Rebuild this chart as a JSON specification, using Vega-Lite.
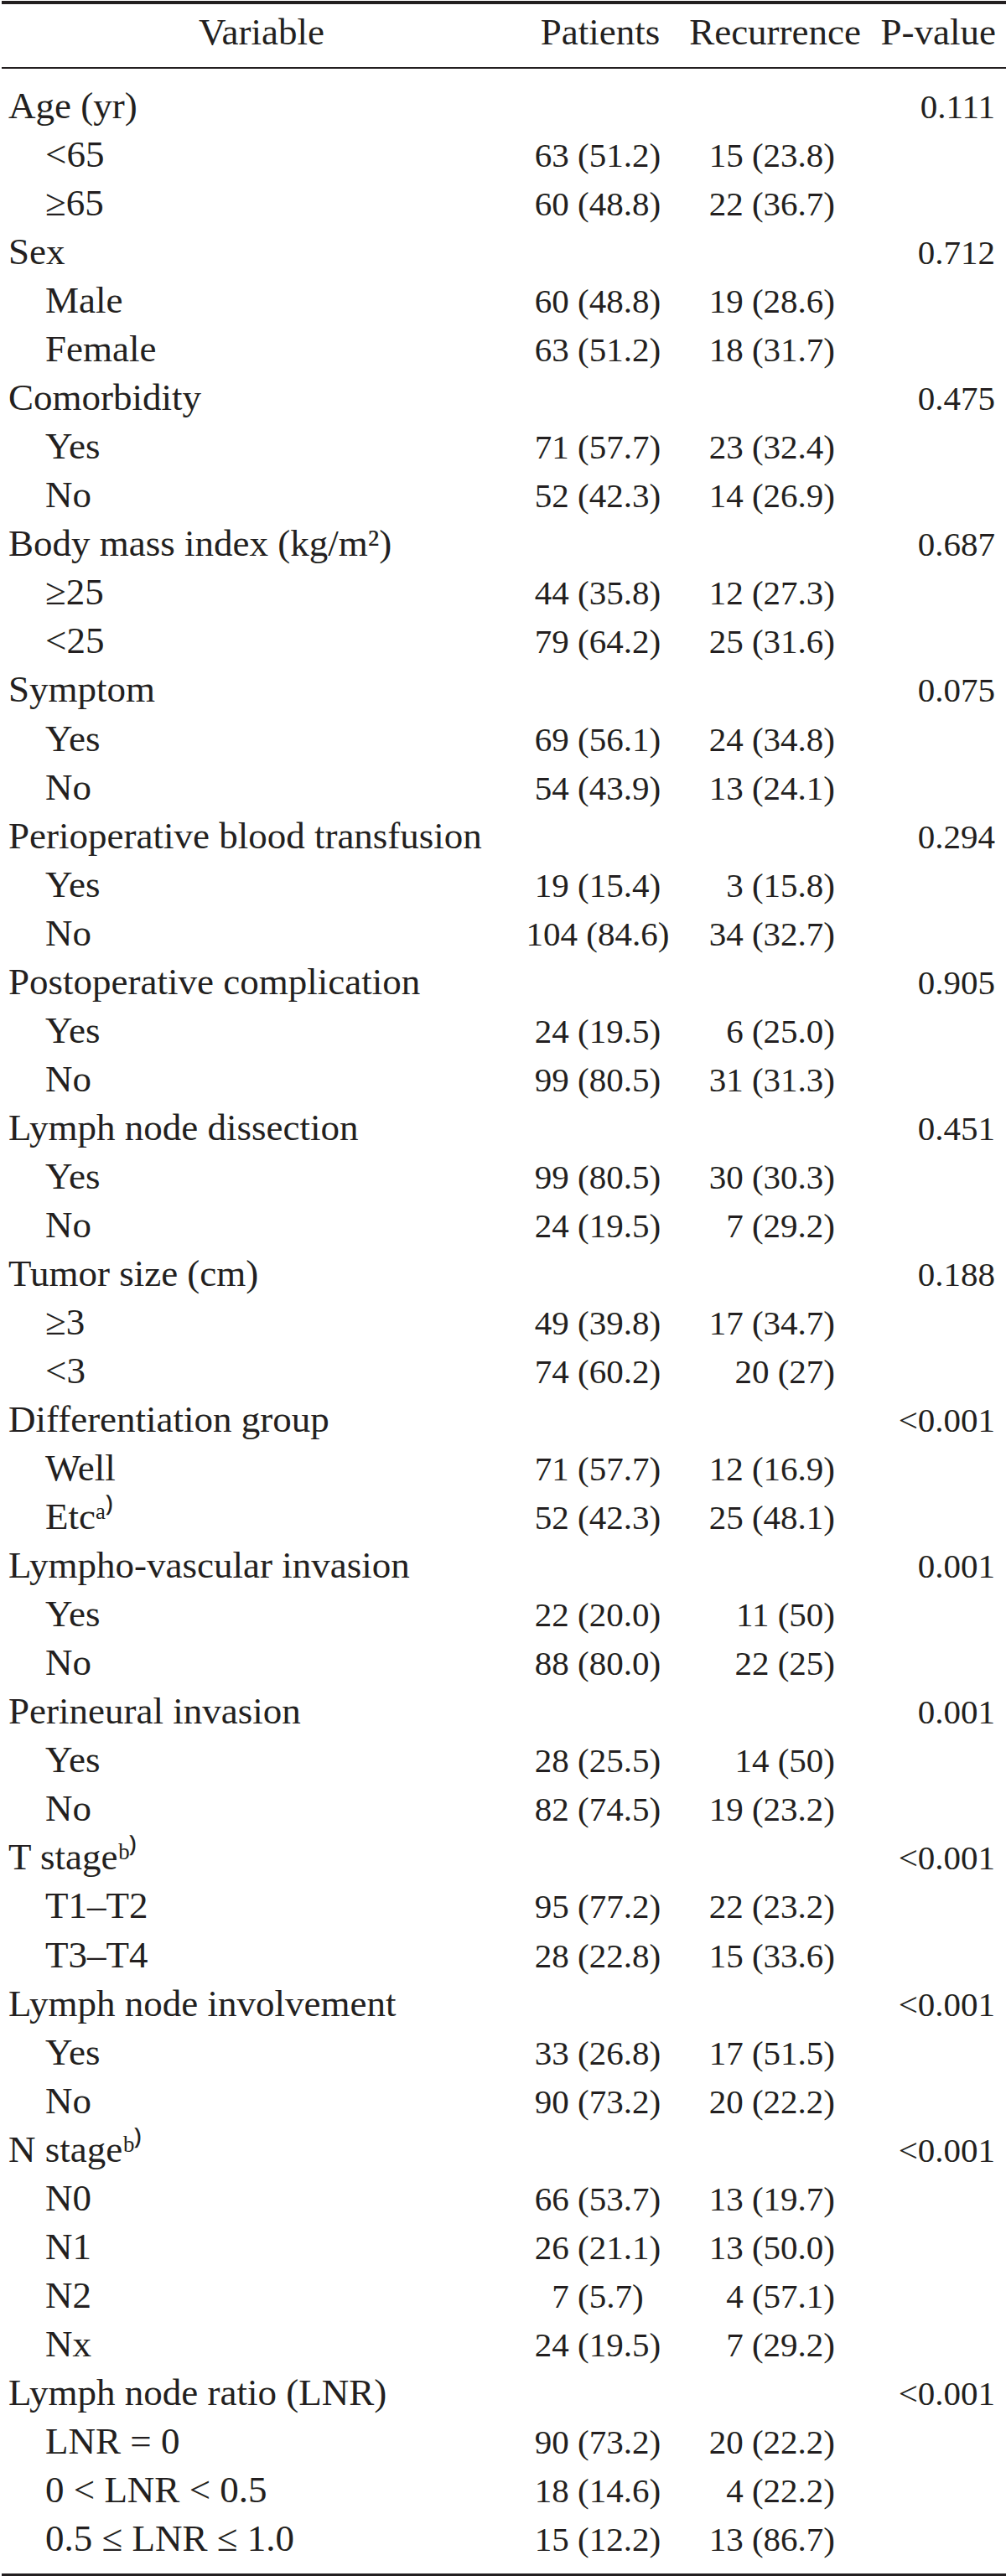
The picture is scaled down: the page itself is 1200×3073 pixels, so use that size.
{
  "$schema": "https://vega.github.io/schema/vega-lite/v6.json",
  "background": "white",
  "padding": 0,
  "spacing": 0,
  "bounds": "flush",
  "config": {
    "view": {"stroke": null},
    "concat": {"spacing": 0},
    "text": {"font": "Liberation Serif", "fontSize": 45, "color": "#231f20", "baseline": "alphabetic"},
    "rule": {"color": "#231f20"}
  },
  "datasets": {
    "rows": [
      {"row": 1, "variable": "Age (yr)", "level": 0, "patients": "", "recurrence": "", "pvalue": "0.111"},
      {"row": 2, "variable": "<65", "level": 1, "patients": "63 (51.2)", "recurrence": "15 (23.8)", "pvalue": ""},
      {"row": 3, "variable": "≥65", "level": 1, "patients": "60 (48.8)", "recurrence": "22 (36.7)", "pvalue": ""},
      {"row": 4, "variable": "Sex", "level": 0, "patients": "", "recurrence": "", "pvalue": "0.712"},
      {"row": 5, "variable": "Male", "level": 1, "patients": "60 (48.8)", "recurrence": "19 (28.6)", "pvalue": ""},
      {"row": 6, "variable": "Female", "level": 1, "patients": "63 (51.2)", "recurrence": "18 (31.7)", "pvalue": ""},
      {"row": 7, "variable": "Comorbidity", "level": 0, "patients": "", "recurrence": "", "pvalue": "0.475"},
      {"row": 8, "variable": "Yes", "level": 1, "patients": "71 (57.7)", "recurrence": "23 (32.4)", "pvalue": ""},
      {"row": 9, "variable": "No", "level": 1, "patients": "52 (42.3)", "recurrence": "14 (26.9)", "pvalue": ""},
      {"row": 10, "variable": "Body mass index (kg/m²)", "level": 0, "patients": "", "recurrence": "", "pvalue": "0.687"},
      {"row": 11, "variable": "≥25", "level": 1, "patients": "44 (35.8)", "recurrence": "12 (27.3)", "pvalue": ""},
      {"row": 12, "variable": "<25", "level": 1, "patients": "79 (64.2)", "recurrence": "25 (31.6)", "pvalue": ""},
      {"row": 13, "variable": "Symptom", "level": 0, "patients": "", "recurrence": "", "pvalue": "0.075"},
      {"row": 14, "variable": "Yes", "level": 1, "patients": "69 (56.1)", "recurrence": "24 (34.8)", "pvalue": ""},
      {"row": 15, "variable": "No", "level": 1, "patients": "54 (43.9)", "recurrence": "13 (24.1)", "pvalue": ""},
      {"row": 16, "variable": "Perioperative blood transfusion", "level": 0, "patients": "", "recurrence": "", "pvalue": "0.294"},
      {"row": 17, "variable": "Yes", "level": 1, "patients": "19 (15.4)", "recurrence": "3 (15.8)", "pvalue": ""},
      {"row": 18, "variable": "No", "level": 1, "patients": "104 (84.6)", "recurrence": "34 (32.7)", "pvalue": ""},
      {"row": 19, "variable": "Postoperative complication", "level": 0, "patients": "", "recurrence": "", "pvalue": "0.905"},
      {"row": 20, "variable": "Yes", "level": 1, "patients": "24 (19.5)", "recurrence": "6 (25.0)", "pvalue": ""},
      {"row": 21, "variable": "No", "level": 1, "patients": "99 (80.5)", "recurrence": "31 (31.3)", "pvalue": ""},
      {"row": 22, "variable": "Lymph node dissection", "level": 0, "patients": "", "recurrence": "", "pvalue": "0.451"},
      {"row": 23, "variable": "Yes", "level": 1, "patients": "99 (80.5)", "recurrence": "30 (30.3)", "pvalue": ""},
      {"row": 24, "variable": "No", "level": 1, "patients": "24 (19.5)", "recurrence": "7 (29.2)", "pvalue": ""},
      {"row": 25, "variable": "Tumor size (cm)", "level": 0, "patients": "", "recurrence": "", "pvalue": "0.188"},
      {"row": 26, "variable": "≥3", "level": 1, "patients": "49 (39.8)", "recurrence": "17 (34.7)", "pvalue": ""},
      {"row": 27, "variable": "<3", "level": 1, "patients": "74 (60.2)", "recurrence": "20 (27)", "pvalue": ""},
      {"row": 28, "variable": "Differentiation group", "level": 0, "patients": "", "recurrence": "", "pvalue": "<0.001"},
      {"row": 29, "variable": "Well", "level": 1, "patients": "71 (57.7)", "recurrence": "12 (16.9)", "pvalue": ""},
      {"row": 30, "variable": "Etcᵃ⁾", "level": 1, "patients": "52 (42.3)", "recurrence": "25 (48.1)", "pvalue": ""},
      {"row": 31, "variable": "Lympho-vascular invasion", "level": 0, "patients": "", "recurrence": "", "pvalue": "0.001"},
      {"row": 32, "variable": "Yes", "level": 1, "patients": "22 (20.0)", "recurrence": "11 (50)", "pvalue": ""},
      {"row": 33, "variable": "No", "level": 1, "patients": "88 (80.0)", "recurrence": "22 (25)", "pvalue": ""},
      {"row": 34, "variable": "Perineural invasion", "level": 0, "patients": "", "recurrence": "", "pvalue": "0.001"},
      {"row": 35, "variable": "Yes", "level": 1, "patients": "28 (25.5)", "recurrence": "14 (50)", "pvalue": ""},
      {"row": 36, "variable": "No", "level": 1, "patients": "82 (74.5)", "recurrence": "19 (23.2)", "pvalue": ""},
      {"row": 37, "variable": "T stageᵇ⁾", "level": 0, "patients": "", "recurrence": "", "pvalue": "<0.001"},
      {"row": 38, "variable": "T1–T2", "level": 1, "patients": "95 (77.2)", "recurrence": "22 (23.2)", "pvalue": ""},
      {"row": 39, "variable": "T3–T4", "level": 1, "patients": "28 (22.8)", "recurrence": "15 (33.6)", "pvalue": ""},
      {"row": 40, "variable": "Lymph node involvement", "level": 0, "patients": "", "recurrence": "", "pvalue": "<0.001"},
      {"row": 41, "variable": "Yes", "level": 1, "patients": "33 (26.8)", "recurrence": "17 (51.5)", "pvalue": ""},
      {"row": 42, "variable": "No", "level": 1, "patients": "90 (73.2)", "recurrence": "20 (22.2)", "pvalue": ""},
      {"row": 43, "variable": "N stageᵇ⁾", "level": 0, "patients": "", "recurrence": "", "pvalue": "<0.001"},
      {"row": 44, "variable": "N0", "level": 1, "patients": "66 (53.7)", "recurrence": "13 (19.7)", "pvalue": ""},
      {"row": 45, "variable": "N1", "level": 1, "patients": "26 (21.1)", "recurrence": "13 (50.0)", "pvalue": ""},
      {"row": 46, "variable": "N2", "level": 1, "patients": "7 (5.7)", "recurrence": "4 (57.1)", "pvalue": ""},
      {"row": 47, "variable": "Nx", "level": 1, "patients": "24 (19.5)", "recurrence": "7 (29.2)", "pvalue": ""},
      {"row": 48, "variable": "Lymph node ratio (LNR)", "level": 0, "patients": "", "recurrence": "", "pvalue": "<0.001"},
      {"row": 49, "variable": "LNR = 0", "level": 1, "patients": "90 (73.2)", "recurrence": "20 (22.2)", "pvalue": ""},
      {"row": 50, "variable": "0 < LNR < 0.5", "level": 1, "patients": "18 (14.6)", "recurrence": "4 (22.2)", "pvalue": ""},
      {"row": 51, "variable": "0.5 ≤ LNR ≤ 1.0", "level": 1, "patients": "15 (12.2)", "recurrence": "13 (86.7)", "pvalue": ""}
    ]
  },
  "hconcat": [
    {
      "width": 620,
      "height": 3073,
      "layer": [
        {"data": {"values": [{}]}, "mark": {"type": "rule", "strokeWidth": 4}, "encoding": {"y": {"datum": -1.378, "type": "quantitative", "scale": {"domain": [-1.412, 51.534], "reverse": true, "nice": false, "zero": false}, "axis": null}}},
        {"data": {"values": [{}]}, "mark": {"type": "rule", "strokeWidth": 2}, "encoding": {"y": {"datum": -0.034, "type": "quantitative"}}},
        {"data": {"values": [{}]}, "mark": {"type": "rule", "strokeWidth": 3}, "encoding": {"y": {"datum": 51.491, "type": "quantitative"}}},
        {"data": {"values": [{"header": "Variable"}]}, "mark": {"type": "text", "align": "center", "dy": -30}, "encoding": {"y": {"datum": 0, "type": "quantitative"}, "text": {"field": "header"}}},
        {
          "data": {"name": "rows"},
          "mark": {"type": "text", "align": "left"},
          "encoding": {
            "y": {"field": "row", "type": "quantitative"},
            "x": {"field": "level", "type": "quantitative", "scale": {"domain": [0, 1], "range": [8, 52], "nice": false, "zero": false}, "axis": null},
            "text": {"field": "variable"}
          }
        }
      ]
    },
    {
      "width": 182,
      "height": 3073,
      "layer": [
        {"data": {"values": [{}]}, "mark": {"type": "rule", "strokeWidth": 4}, "encoding": {"y": {"datum": -1.378, "type": "quantitative", "scale": {"domain": [-1.412, 51.534], "reverse": true, "nice": false, "zero": false}, "axis": null}}},
        {"data": {"values": [{}]}, "mark": {"type": "rule", "strokeWidth": 2}, "encoding": {"y": {"datum": -0.034, "type": "quantitative"}}},
        {"data": {"values": [{}]}, "mark": {"type": "rule", "strokeWidth": 3}, "encoding": {"y": {"datum": 51.491, "type": "quantitative"}}},
        {"data": {"values": [{"header": "Patients"}]}, "mark": {"type": "text", "align": "center", "dx": 3, "dy": -30}, "encoding": {"y": {"datum": 0, "type": "quantitative"}, "text": {"field": "header"}}},
        {
          "data": {"name": "rows"},
          "mark": {"type": "text", "align": "center", "fontSize": 41},
          "encoding": {
            "y": {"field": "row", "type": "quantitative"},
            "text": {"field": "patients"}
          }
        }
      ]
    },
    {
      "width": 223,
      "height": 3073,
      "layer": [
        {"data": {"values": [{}]}, "mark": {"type": "rule", "strokeWidth": 4}, "encoding": {"y": {"datum": -1.378, "type": "quantitative", "scale": {"domain": [-1.412, 51.534], "reverse": true, "nice": false, "zero": false}, "axis": null}}},
        {"data": {"values": [{}]}, "mark": {"type": "rule", "strokeWidth": 2}, "encoding": {"y": {"datum": -0.034, "type": "quantitative"}}},
        {"data": {"values": [{}]}, "mark": {"type": "rule", "strokeWidth": 3}, "encoding": {"y": {"datum": 51.491, "type": "quantitative"}}},
        {"data": {"values": [{"header": "Recurrence"}]}, "mark": {"type": "text", "align": "right", "dy": -30}, "encoding": {"y": {"datum": 0, "type": "quantitative"}, "x": {"value": "width"}, "text": {"field": "header"}}},
        {
          "data": {"name": "rows"},
          "mark": {"type": "text", "align": "right", "dx": -31, "fontSize": 41},
          "encoding": {
            "y": {"field": "row", "type": "quantitative"},
            "x": {"value": "width"},
            "text": {"field": "recurrence"}
          }
        }
      ]
    },
    {
      "width": 175,
      "height": 3073,
      "layer": [
        {"data": {"values": [{}]}, "mark": {"type": "rule", "strokeWidth": 4}, "encoding": {"y": {"datum": -1.378, "type": "quantitative", "scale": {"domain": [-1.412, 51.534], "reverse": true, "nice": false, "zero": false}, "axis": null}}},
        {"data": {"values": [{}]}, "mark": {"type": "rule", "strokeWidth": 2}, "encoding": {"y": {"datum": -0.034, "type": "quantitative"}}},
        {"data": {"values": [{}]}, "mark": {"type": "rule", "strokeWidth": 3}, "encoding": {"y": {"datum": 51.491, "type": "quantitative"}}},
        {"data": {"values": [{"header": "P-value"}]}, "mark": {"type": "text", "align": "right", "dx": -14, "dy": -30}, "encoding": {"y": {"datum": 0, "type": "quantitative"}, "x": {"value": "width"}, "text": {"field": "header"}}},
        {
          "data": {"name": "rows"},
          "mark": {"type": "text", "align": "right", "dx": -15, "fontSize": 41},
          "encoding": {
            "y": {"field": "row", "type": "quantitative"},
            "x": {"value": "width"},
            "text": {"field": "pvalue"}
          }
        }
      ]
    }
  ]
}
